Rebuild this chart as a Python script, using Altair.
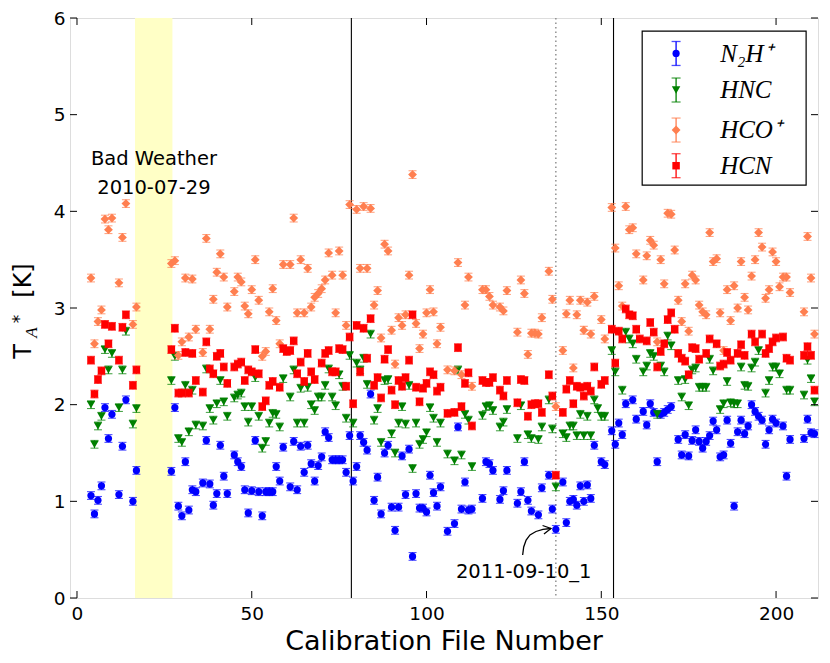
import altair as alt
import pandas as pd

# ---------------- data ----------------
N2H_PTS = [(4,1.06),(5,0.87),(6,1.01),(7,1.16),(8,1.97),(9,1.65),(10,1.90),(12,1.07),(13,1.57),(14,2.05),(16,1.00),(17,1.32),
(27,1.31),(28,1.97),(29,0.95),(30,0.85),(31,1.41),(32,0.91),(33,1.12),(34,1.10),
(36,1.19),(37,1.63),(38,1.18),(39,0.96),(40,1.08),(41,1.58),(42,1.26),(43,1.08),(45,1.48),(46,1.41),(47,1.36),(48,1.12),(49,0.88),(50,1.11),(51,1.63),(52,1.10),(53,0.85),(54,1.10),(55,1.10),(56,1.10),(57,1.36),(58,1.21),(59,1.56),(61,1.15),(62,1.62),(63,1.12),(64,1.57),(65,1.30),(66,1.58),(67,1.39),(68,1.21),(69,1.37),
(70,1.46),(71,1.72),(72,1.66),(73,1.43),(74,1.43),(75,1.43),(76,1.43),(77,1.30),(78,1.68),(79,1.21),(80,1.36),(81,1.68),(82,1.61),(83,1.53),(84,2.11),(85,1.01),(86,1.25),(87,0.87),(88,1.50),(89,1.58),(90,0.94),(91,0.70),(92,0.94),(93,1.47),(94,1.07),(95,1.54),(96,0.43),(97,1.08),(98,0.93),(99,0.93),(100,0.89),(101,1.27),(102,1.09),(103,0.95),(104,1.15),
(106,0.69),(108,0.77),(109,1.77),(110,0.92),(111,1.20),(112,0.91),(113,0.92),(116,1.03),(117,1.41),(118,1.39),(119,1.32),(121,1.02),(122,1.11),(123,1.32),(126,0.98),(127,1.10),(128,1.41),(129,1.01),(130,0.90),(132,0.86),(133,1.14),(135,1.27),(136,0.92),(137,0.71),(139,1.20),(140,0.78),(141,1.00),
(142,1.02),(143,0.96),(144,1.16),(145,1.00),(146,1.17),(147,1.03),(148,1.58),(150,1.41),(151,1.38),(153,1.73),(154,1.59),(155,1.81),(156,1.69),(157,2.01),(159,2.05),(160,1.85),(162,1.93),(163,1.79),(164,2.01),(165,1.92),(166,1.41),(167,1.90),(168,1.92),(169,1.95),(170,1.98),(172,1.64),(173,1.48),(174,1.69),(175,1.47),(176,1.63),
(177,1.74),(178,1.62),(179,1.55),(180,1.62),(181,1.68),(182,1.83),(183,1.74),(184,1.46),(185,1.48),(186,1.84),(187,1.60),(188,0.95),(189,1.72),(190,1.84),(191,1.70),(192,1.78),(193,2.00),(194,1.93),(195,1.88),(196,1.84),(197,1.59),(198,1.74),(199,1.85),(200,1.81),(202,1.78),(203,1.26),(204,1.64),(208,1.65),(209,1.85),(210,1.71),(211,1.70)]

HNC_PTS = [(4,2.00),(5,1.59),(6,1.78),(7,1.88),(8,2.57),(9,2.36),(10,2.53),(12,1.97),(13,2.36),(14,2.76),(16,1.80),(17,1.96),
(27,2.25),(28,2.50),(29,1.65),(30,1.61),(31,2.20),(32,1.72),(33,2.15),(34,1.79),
(36,1.78),(37,2.37),(38,1.96),(39,1.84),(40,2.01),(41,2.25),(42,2.03),(43,1.88),(45,2.07),(46,2.10),(47,2.12),(48,1.98),(49,1.82),(50,1.98),(51,2.28),(52,1.88),(53,1.55),(54,1.62),(55,1.81),(56,1.91),(57,1.90),(58,1.77),(59,2.27),(61,2.08),(62,2.36),(63,1.81),(64,2.17),(65,1.81),(66,2.18),(67,2.00),(68,1.94),(69,2.08),
(70,2.08),(71,2.20),(72,2.37),(73,2.08),(74,1.99),(75,2.31),(76,2.19),(77,1.86),(78,2.51),(79,1.81),(80,2.43),(81,2.36),(82,2.48),(83,2.21),(84,2.73),(85,1.84),(86,1.96),(87,1.61),(88,2.25),(89,2.26),(90,1.70),(91,1.50),(92,1.81),(93,1.98),(94,1.80),(95,2.20),(96,1.34),(97,1.81),(98,1.59),(99,1.64),(100,1.71),(101,1.97),(102,1.86),(103,1.61),(104,1.81),
(106,1.49),(108,1.42),(109,2.36),(110,1.48),(111,1.90),(112,1.84),(113,1.36),(116,1.89),(117,1.98),(118,1.99),(119,1.94),(121,1.77),(122,1.82),(123,1.95),(126,1.65),(127,1.99),(129,1.69),(130,1.65),(132,1.64),(133,1.77),(135,2.05),(136,1.75),(137,1.15),(139,1.70),(140,1.66),(141,1.78),
(142,1.78),(143,1.68),(144,1.90),(145,1.68),(146,1.88),(147,1.68),(148,2.05),(149,1.96),(150,1.88),(151,1.88),(153,2.56),(154,2.34),(156,2.15),(157,2.75),(158,2.68),(159,2.63),(160,2.47),(162,2.34),(163,2.40),(164,2.53),(165,2.50),(166,1.90),(167,2.40),(168,2.34),(169,2.71),(170,2.61),(172,2.25),(173,2.08),(174,2.26),(175,1.99),(176,2.36),
(177,2.38),(178,2.18),(179,2.18),(180,2.18),(181,2.47),(182,2.35),(184,1.95),(185,2.01),(186,2.24),(187,2.02),(188,2.01),(189,2.01),(190,2.39),(191,2.20),(192,2.19),(193,2.38),(194,2.44),(195,2.56),(197,2.12),(198,2.25),(199,2.39),(200,2.39),(201,2.32),(203,2.15),(204,2.15),(208,2.10),(209,2.46),(210,2.27),(211,2.03)]

HCO_PTS = [(4,3.31),(5,2.63),(6,2.86),(7,2.98),(8,3.92),(9,3.81),(10,3.93),(12,3.26),(13,3.73),(14,4.08),(16,2.83),(17,3.01),
(27,3.46),(28,3.49),(29,2.51),(30,2.65),(31,3.31),(32,2.70),(33,3.30),(34,2.78),
(36,2.54),(37,3.72),(38,2.78),(39,3.09),(40,3.37),(41,3.56),(42,3.32),(43,3.01),(45,3.17),(46,3.32),(47,3.27),(48,3.02),(49,2.94),(50,3.19),(51,3.50),(52,3.08),(53,2.50),(54,2.55),(55,2.96),(56,3.20),(57,2.87),(58,2.63),(59,3.45),(61,3.45),(62,3.93),(63,2.95),(64,3.50),(65,2.95),(66,3.41),(67,3.01),(68,3.11),(69,3.15),
(70,3.20),(71,3.29),(72,3.57),(73,3.34),(74,2.95),(75,3.59),(76,3.34),(77,2.82),(78,4.07),(80,4.02),(81,3.41),(82,4.05),(83,3.41),(84,4.03),(85,3.03),(86,3.18),(87,2.69),(88,3.66),(89,3.59),(90,2.77),(91,2.42),(92,2.90),(93,2.82),(94,2.93),(95,3.34),(96,4.38),(97,2.84),(98,2.58),(99,2.73),(100,2.95),(101,3.19),(102,2.96),(103,2.63),(104,2.80),
(106,2.36),(108,2.35),(109,3.47),(110,2.31),(111,3.03),(112,3.32),(113,2.19),(116,3.19),(117,3.19),(118,3.12),(119,3.03),(121,3.01),(122,2.97),(123,3.18),(126,2.75),(127,3.29),(128,3.15),(129,2.52),(130,2.74),(131,2.74),(132,2.73),(133,2.90),(135,3.38),(136,3.09),(137,1.98),(139,2.56),(140,2.94),(141,3.08),
(142,2.38),(143,2.93),(144,3.08),(145,2.77),(146,3.06),(147,2.73),(148,3.12),(150,2.88),(151,2.68),(153,4.04),(154,3.62),(155,3.23),(156,3.02),(157,4.05),(158,3.81),(159,3.83),(160,3.56),(162,3.29),(163,3.54),(164,3.70),(165,3.65),(166,2.65),(167,3.50),(168,3.25),(169,3.98),(170,3.97),(171,3.60),(172,3.08),(173,2.86),(174,3.25),(175,2.76),(176,3.34),
(177,3.29),(178,3.03),(179,2.96),(180,2.93),(181,3.78),(182,3.48),(183,3.51),(184,2.95),(185,2.56),(186,3.19),(187,2.87),(188,3.23),(189,3.00),(190,3.48),(191,3.11),(192,2.98),(193,3.33),(194,3.50),(195,3.78),(196,3.63),(197,3.10),(198,3.19),(199,3.58),(200,3.48),(201,3.22),(202,3.32),(203,3.32),(204,3.16),(208,2.96),(209,3.74),(210,3.31),(211,2.73)]

HCN_PTS = [(4,2.46),(5,2.11),(6,2.26),(7,2.35),(8,2.83),(9,2.63),(10,2.81),(12,2.46),(13,2.80),(14,2.93),(16,2.20),(17,2.36),
(27,2.57),(28,2.79),(29,2.12),(30,2.12),(31,2.54),(32,2.12),(33,2.53),(34,2.25),
(36,2.13),(37,2.65),(38,2.37),(39,2.32),(40,2.50),(41,2.53),(42,2.39),(43,2.22),(45,2.39),(46,2.42),(47,2.44),(48,2.25),(49,2.36),(50,2.34),(51,2.57),(52,2.32),(53,1.98),(54,2.04),(55,2.20),(56,2.24),(58,2.18),(59,2.58),(60,2.55),(61,2.56),(62,2.66),(63,2.32),(64,2.44),(65,2.24),(66,2.53),(67,2.34),(68,2.26),
(70,2.43),(71,2.53),(72,2.56),(73,2.34),(74,2.34),(75,2.58),(76,2.57),(77,2.19),(78,2.70),(79,2.01),(80,2.82),(81,2.34),(82,2.79),(83,2.48),(84,2.89),(85,2.20),(86,2.28),(87,2.07),(88,2.47),(89,2.57),(90,2.15),(91,2.00),(92,2.25),(93,2.19),(94,2.28),(95,2.46),(96,2.93),(97,2.18),(98,2.03),(99,2.17),(100,2.22),(101,2.34),(102,2.31),(103,2.14),(104,2.18),
(106,1.91),(108,1.92),(109,2.59),(110,1.98),(111,2.22),(112,2.33),(113,1.78),(116,2.25),(117,2.23),(118,2.23),(119,2.28),(121,2.15),(122,2.09),(123,2.25),(126,2.02),(127,2.26),(128,2.25),(129,1.88),(130,2.00),(131,2.01),(132,2.01),(133,1.92),(135,2.31),(136,2.09),(137,1.27),(139,1.92),(140,2.16),(141,2.25),
(142,2.01),(143,2.19),(144,2.18),(145,2.09),(146,2.19),(147,2.14),(148,2.39),(150,2.21),(151,2.25),(153,2.78),(154,2.43),(155,2.76),(156,2.68),(157,2.99),(158,2.93),(159,2.92),(160,2.78),(161,2.68),(163,2.66),(164,2.85),(165,2.75),(166,2.39),(167,2.55),(168,2.63),(169,2.88),(170,2.95),(171,2.78),(172,2.53),(173,2.48),(174,2.45),(175,2.31),(176,2.59),
(177,2.58),(178,2.47),(180,2.53),(181,2.68),(183,2.63),(184,2.40),(185,2.42),(186,2.54),(187,2.46),(189,2.53),(190,2.62),(191,2.51),(193,2.73),(194,2.65),(196,2.73),(197,2.53),(198,2.58),(199,2.65),(200,2.69),(202,2.70),(203,2.48),(204,2.46),(208,2.51),(209,2.60),(210,2.51),(211,2.15)]

SERIES_PTS = [N2H_PTS, HNC_PTS, HCO_PTS, HCN_PTS]
LEGEND_LABELS = ["N\u2082H\u207a", "HNC", "HCO\u207a", "HCN"]
COLORS = ["#0000ff", "#008000", "#ff7f50", "#ff0000"]
SHAPES = ["circle", "triangle-down", "diamond", "square"]
SIZES = [52, 72, 78, 56]
ERR = 0.04

X_DOMAIN = [-2, 212]
Y_DOMAIN = [0, 6]
X_TICKS = [0, 50, 100, 150, 200]
Y_TICKS = [0, 1, 2, 3, 4, 5, 6]
SOLID_LINES = [78.5, 153.5]
DOTTED_LINES = [137]
BAD_SPAN = [(16.6, 27.3)]
BAD_TEXT = ["Bad Weather", "2010-07-29"]
BAD_TEXT_X = [22.0, 22.0]
BAD_TEXT_Y = [4.479, 4.179]
NOTE_TEXT = ["2011-09-10_1"]
NOTE_X = [127.8]
NOTE_Y = [0.204]
ARROW_X = [127.5, 127.8, 128.5, 129.6, 131.3, 133.3, 135.6]
ARROW_Y = [0.445, 0.528, 0.600, 0.652, 0.688, 0.709, 0.719]
HEAD_X = [133.2, 135.6, 133.6]
HEAD_Y = [0.750, 0.719, 0.663]
LEG_BOX = [(161.7, 208.6, 5.865, 4.272)]
LEG_MARK_X = 171.4
LEG_TEXT_X = 184.0
LEG_ROW_Y = [5.633, 5.255, 4.841, 4.472]
LEG_ERR = 0.124

W, H = 748, 580
FONT = "DejaVu Sans"

xs = alt.Scale(domain=X_DOMAIN, nice=False, zero=False)
ys = alt.Scale(domain=Y_DOMAIN, nice=False, zero=False)
xaxis = alt.Axis(values=X_TICKS, ticks=False, domain=False, grid=False, title=None,
                 labelFont=FONT, labelFontSize=18.5, labelColor="black", labelPadding=6,
                 labelFlush=False, labelOverlap=False)
yaxis = alt.Axis(values=Y_TICKS, ticks=False, domain=False, grid=False, title=None,
                 labelFont=FONT, labelFontSize=18.5, labelColor="black", labelPadding=5,
                 labelFlush=False, labelOverlap=False)


def X(f):
    return alt.X(f, type="quantitative", scale=xs, axis=xaxis)


def Y(f):
    return alt.Y(f, type="quantitative", scale=ys, axis=yaxis)


layers = []

# bad weather band
band_df = pd.DataFrame(BAD_SPAN, columns=["a", "b"])
layers.append(alt.Chart(band_df).mark_rect(color="#ffffc6").encode(x=X("a"), x2="b"))

# vertical lines
layers.append(alt.Chart(pd.DataFrame({"v": SOLID_LINES})).mark_rule(color="black", strokeWidth=1.1)
              .encode(x=X("v")))
layers.append(alt.Chart(pd.DataFrame({"v": DOTTED_LINES})).mark_rule(color="#808080", strokeWidth=1.3,
                                                                     strokeDash=[1.5, 3])
              .encode(x=X("v")))

# series: error bars, caps, markers
for pts, col, shp, sz in zip(SERIES_PTS, COLORS, SHAPES, SIZES):
    df = pd.DataFrame(pts, columns=["x", "y"])
    base = alt.Chart(df).transform_calculate(lo=f"datum.y - {ERR}", hi=f"datum.y + {ERR}")
    layers.append(base.mark_rule(color=col, strokeWidth=1.1).encode(x=X("x"), y=Y("lo"), y2="hi"))
    layers.append(base.mark_tick(color=col, orient="horizontal", size=8, thickness=1.1)
                  .encode(x=X("x"), y=Y("lo")))
    layers.append(base.mark_tick(color=col, orient="horizontal", size=8, thickness=1.1)
                  .encode(x=X("x"), y=Y("hi")))
    layers.append(base.mark_point(shape=shp, filled=True, size=sz, color=col, opacity=1, strokeWidth=0)
                  .encode(x=X("x"), y=Y("y")))

# annotations
bad_df = pd.DataFrame({"x": BAD_TEXT_X, "y": BAD_TEXT_Y, "t": BAD_TEXT})
layers.append(alt.Chart(bad_df).mark_text(font=FONT, fontSize=19.5, color="black", align="center",
                                          baseline="alphabetic")
              .encode(x=X("x"), y=Y("y"), text="t:N"))
note_df = pd.DataFrame({"x": NOTE_X, "y": NOTE_Y, "t": NOTE_TEXT})
layers.append(alt.Chart(note_df).mark_text(font=FONT, fontSize=19.5, color="black", align="center",
                                           baseline="alphabetic")
              .encode(x=X("x"), y=Y("y"), text="t:N"))
arrow_df = pd.concat([
    pd.DataFrame({"x": ARROW_X, "y": ARROW_Y, "seg": "path", "o": range(len(ARROW_X))}),
    pd.DataFrame({"x": HEAD_X, "y": HEAD_Y, "seg": "head", "o": range(len(HEAD_X))}),
])
layers.append(alt.Chart(arrow_df).mark_line(color="black", strokeWidth=1.3)
              .encode(x=X("x"), y=Y("y"), detail="seg:N", order="o:Q"))

# inward ticks on all four sides
xt = pd.DataFrame({"t": X_TICKS})
yt = pd.DataFrame({"t": Y_TICKS})
layers.append(alt.Chart(xt).mark_rule(color="black", strokeWidth=1)
              .encode(x=X("t"), y=alt.value(H), y2=alt.value(H - 7)))
layers.append(alt.Chart(xt).mark_rule(color="black", strokeWidth=1)
              .encode(x=X("t"), y=alt.value(0), y2=alt.value(7)))
layers.append(alt.Chart(yt).mark_rule(color="black", strokeWidth=1)
              .encode(y=Y("t"), x=alt.value(0), x2=alt.value(7)))
layers.append(alt.Chart(yt).mark_rule(color="black", strokeWidth=1)
              .encode(y=Y("t"), x=alt.value(W), x2=alt.value(W - 7)))

# legend
box_df = pd.DataFrame(LEG_BOX, columns=["x1", "x2", "y1", "y2"])
layers.append(alt.Chart(box_df).mark_rect(fill="white", stroke="black", strokeWidth=1.2)
              .encode(x=X("x1"), x2="x2", y=Y("y1"), y2="y2"))
for lab, col, shp, sz, ry in zip(LEGEND_LABELS, COLORS, SHAPES, SIZES, LEG_ROW_Y):
    ldf = pd.DataFrame({"x": [LEG_MARK_X], "y": [ry], "lo": [ry - LEG_ERR], "hi": [ry + LEG_ERR],
                        "tx": [LEG_TEXT_X], "ty": [ry - 0.086], "t": [lab]})
    lb = alt.Chart(ldf)
    layers.append(lb.mark_rule(color=col, strokeWidth=1.3).encode(x=X("x"), y=Y("lo"), y2="hi"))
    layers.append(lb.mark_tick(color=col, orient="horizontal", size=9, thickness=1.3)
                  .encode(x=X("x"), y=Y("lo")))
    layers.append(lb.mark_tick(color=col, orient="horizontal", size=9, thickness=1.3)
                  .encode(x=X("x"), y=Y("hi")))
    layers.append(lb.mark_point(shape=shp, filled=True, size=sz, color=col, opacity=1, strokeWidth=0)
                  .encode(x=X("x"), y=Y("y")))
    layers.append(lb.mark_text(font="Liberation Serif", fontStyle="italic", fontSize=25, color="black",
                               align="left", baseline="alphabetic")
                  .encode(x=X("tx"), y=Y("ty"), text="t:N"))

# axis titles as text (y title composed of pieces)
layers.append(alt.Chart(pd.DataFrame({"t": ["Calibration File Number"]}))
              .mark_text(font=FONT, fontSize=27, color="black", align="center", baseline="alphabetic")
              .encode(x=alt.value(W / 2), y=alt.value(632), text="t:N"))
YT_TEXT = ["T", "A", "*", "[K]"]
YT_PX = [-39, -33, -45, -39]
YT_PY = [333.5, 314.5, 301, 262.5]
YT_FONT = [FONT, "Liberation Serif", FONT, FONT]
YT_STYLE = ["normal", "italic", "normal", "normal"]
YT_SIZE = [24, 17, 17, 24]
for t, px, py, f, st, fs in zip(YT_TEXT, YT_PX, YT_PY, YT_FONT, YT_STYLE, YT_SIZE):
    layers.append(alt.Chart(pd.DataFrame({"t": [t]}))
                  .mark_text(font=f, fontStyle=st, fontSize=fs, color="black", align="center",
                             baseline="alphabetic", angle=270)
                  .encode(x=alt.value(px), y=alt.value(py), text="t:N"))

chart = (alt.layer(*layers)
         .properties(width=W, height=H, autosize=alt.AutoSizeParams(type="none"),
                     padding={"left": 62, "top": 10, "right": 4, "bottom": 57})
         .configure_view(stroke="black", strokeWidth=1.3)
         .configure(background="white", font=FONT))

chart.save("out.html", embed_options={"renderer": "svg", "actions": False})
